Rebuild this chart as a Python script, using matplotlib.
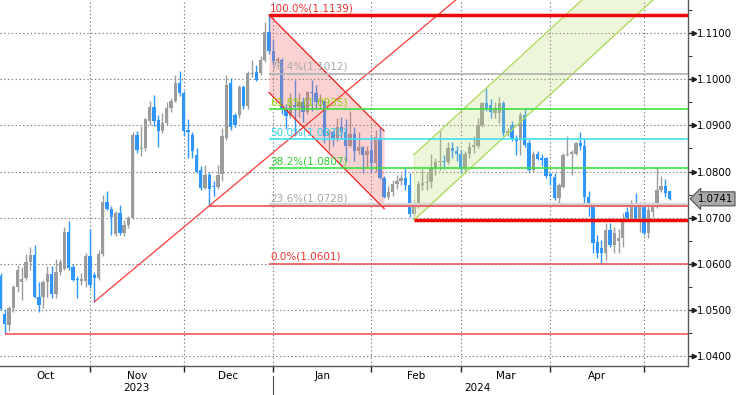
import numpy as np
import matplotlib.pyplot as plt
import matplotlib.transforms as mtransforms
from matplotlib.ticker import FormatStrFormatter

plt.close('all')

# --- 1. Data (daily candles, bar index 0 = first visible bar) ---
opens = [1.0573, 1.0492, 1.0468, 1.0504, 1.0550, 1.0562, 1.0569, 1.0605, 1.0619, 1.0529,
         1.0529, 1.0560, 1.0578, 1.0535, 1.0583, 1.0589, 1.0670, 1.0593, 1.0567, 1.0564,
         1.0564, 1.0617, 1.0576, 1.0569, 1.0622, 1.0734, 1.0720, 1.0665, 1.0710, 1.0667,
         1.0684, 1.0700, 1.0879, 1.0848, 1.0850, 1.0910, 1.0940, 1.0912, 1.0887, 1.0905,
         1.0937, 1.0953, 1.0991, 1.0970, 1.0890, 1.0879, 1.0836, 1.0803, 1.0764, 1.0793,
         1.0768, 1.0767, 1.0795, 1.0872, 1.0992, 1.0922, 1.0922, 1.0984, 1.0941, 1.1011,
         1.1016, 1.1013, 1.1042, 1.1103, 1.1061, 1.1039, 1.1042, 1.0935, 1.0920, 1.0945,
         1.0940, 1.0950, 1.0930, 1.0973, 1.0970, 1.0950, 1.0953, 1.0877, 1.0886, 1.0873,
         1.0897, 1.0885, 1.0855, 1.0882, 1.0844, 1.0854, 1.0835, 1.0847, 1.0818, 1.0872,
         1.0786, 1.0744, 1.0755, 1.0773, 1.0780, 1.0786, 1.0772, 1.0708, 1.0728, 1.0772,
         1.0776, 1.0778, 1.0808, 1.0820, 1.0823, 1.0821, 1.0851, 1.0844, 1.0838, 1.0805,
         1.0838, 1.0854, 1.0856, 1.0900, 1.0948, 1.0944, 1.0926, 1.0927, 1.0948, 1.0883,
         1.0900, 1.0872, 1.0869, 1.0922, 1.0861, 1.0803, 1.0838, 1.0830, 1.0829, 1.0794,
         1.0789, 1.0742, 1.0767, 1.0836, 1.0839, 1.0838, 1.0862, 1.0856, 1.0746, 1.0724,
         1.0648, 1.0634, 1.0623, 1.0674, 1.0641, 1.0650, 1.0656, 1.0713, 1.0695, 1.0730,
         1.0700, 1.0733, 1.0667, 1.0712, 1.0724, 1.0761, 1.0769, 1.0757]
highs = [1.0580, 1.0502, 1.0508, 1.0555, 1.0598, 1.0593, 1.0622, 1.0637, 1.0641, 1.0562,
         1.0565, 1.0596, 1.0596, 1.0610, 1.0610, 1.0679, 1.0694, 1.0601, 1.0574, 1.0580,
         1.0624, 1.0676, 1.0583, 1.0630, 1.0749, 1.0758, 1.0725, 1.0715, 1.0727, 1.0695,
         1.0703, 1.0885, 1.0888, 1.0898, 1.0915, 1.0953, 1.0966, 1.0922, 1.0927, 1.0950,
         1.0960, 1.1009, 1.1018, 1.0975, 1.0914, 1.0885, 1.0850, 1.0813, 1.0815, 1.0800,
         1.0780, 1.0815, 1.0894, 1.1010, 1.1002, 1.0926, 1.0988, 1.0988, 1.1017, 1.1041,
         1.1030, 1.1050, 1.1124, 1.1139, 1.1088, 1.1048, 1.1046, 1.0946, 1.0970, 1.0998,
         1.0970, 1.0961, 1.0975, 1.0999, 1.0987, 1.0969, 1.0955, 1.0890, 1.0890, 1.0916,
         1.0918, 1.0914, 1.0932, 1.0896, 1.0886, 1.0856, 1.0855, 1.0876, 1.0889, 1.0897,
         1.0790, 1.0768, 1.0781, 1.0792, 1.0795, 1.0807, 1.0797, 1.0740, 1.0780, 1.0806,
         1.0797, 1.0838, 1.0829, 1.0888, 1.0836, 1.0865, 1.0864, 1.0855, 1.0847, 1.0845,
         1.0865, 1.0876, 1.0917, 1.0951, 1.0981, 1.0958, 1.0950, 1.0962, 1.0952, 1.0895,
         1.0910, 1.0879, 1.0930, 1.0937, 1.0868, 1.0845, 1.0845, 1.0838, 1.0831, 1.0800,
         1.0796, 1.0775, 1.0840, 1.0877, 1.0847, 1.0863, 1.0886, 1.0870, 1.0757, 1.0727,
         1.0662, 1.0652, 1.0688, 1.0688, 1.0680, 1.0675, 1.0710, 1.0724, 1.0739, 1.0753,
         1.0734, 1.0735, 1.0731, 1.0735, 1.0811, 1.0790, 1.0783, 1.0758]
lows = [1.0500, 1.0448, 1.0455, 1.0495, 1.0540, 1.0522, 1.0565, 1.0587, 1.0526, 1.0497,
        1.0504, 1.0529, 1.0526, 1.0526, 1.0576, 1.0587, 1.0587, 1.0563, 1.0526, 1.0555,
        1.0551, 1.0547, 1.0518, 1.0565, 1.0617, 1.0717, 1.0663, 1.0660, 1.0663, 1.0660,
        1.0678, 1.0698, 1.0840, 1.0833, 1.0845, 1.0900, 1.0899, 1.0853, 1.0884, 1.0900,
        1.0930, 1.0950, 1.0963, 1.0877, 1.0829, 1.0830, 1.0798, 1.0760, 1.0762, 1.0726,
        1.0748, 1.0762, 1.0780, 1.0868, 1.0891, 1.0897, 1.0917, 1.0935, 1.0935, 1.1005,
        1.0995, 1.1008, 1.1038, 1.1055, 1.1030, 1.1036, 1.0925, 1.0892, 1.0915, 1.0877,
        1.0918, 1.0908, 1.0925, 1.0932, 1.0937, 1.0937, 1.0862, 1.0844, 1.0855, 1.0866,
        1.0872, 1.0822, 1.0853, 1.0823, 1.0837, 1.0796, 1.0807, 1.0796, 1.0800, 1.0783,
        1.0743, 1.0740, 1.0748, 1.0762, 1.0770, 1.0760, 1.0702, 1.0695, 1.0722, 1.0761,
        1.0760, 1.0764, 1.0792, 1.0804, 1.0805, 1.0816, 1.0830, 1.0823, 1.0796, 1.0797,
        1.0829, 1.0840, 1.0850, 1.0896, 1.0932, 1.0916, 1.0916, 1.0905, 1.0877, 1.0877,
        1.0866, 1.0836, 1.0836, 1.0853, 1.0800, 1.0800, 1.0825, 1.0812, 1.0787, 1.0770,
        1.0738, 1.0728, 1.0765, 1.0833, 1.0793, 1.0835, 1.0847, 1.0731, 1.0703, 1.0624,
        1.0612, 1.0601, 1.0609, 1.0637, 1.0624, 1.0624, 1.0637, 1.0692, 1.0692, 1.0692,
        1.0670, 1.0663, 1.0656, 1.0702, 1.0721, 1.0756, 1.0745, 1.0739]
closes = [1.0502, 1.0470, 1.0504, 1.0551, 1.0586, 1.0568, 1.0605, 1.0619, 1.0529, 1.0511,
          1.0562, 1.0578, 1.0535, 1.0583, 1.0605, 1.0670, 1.0591, 1.0565, 1.0565, 1.0567,
          1.0617, 1.0555, 1.0569, 1.0622, 1.0734, 1.0718, 1.0701, 1.0710, 1.0667, 1.0684,
          1.0699, 1.0879, 1.0847, 1.0852, 1.0914, 1.0940, 1.0910, 1.0887, 1.0905, 1.0937,
          1.0953, 1.0991, 1.0970, 1.0887, 1.0885, 1.0844, 1.0800, 1.0764, 1.0793, 1.0762,
          1.0766, 1.0793, 1.0876, 1.0988, 1.0896, 1.0901, 1.0984, 1.0941, 1.1013, 1.1014,
          1.0998, 1.1042, 1.1103, 1.1061, 1.1039, 1.1043, 1.0935, 1.0920, 1.0945, 1.0940,
          1.0950, 1.0930, 1.0973, 1.0970, 1.0950, 1.0953, 1.0877, 1.0886, 1.0873, 1.0897,
          1.0885, 1.0855, 1.0882, 1.0844, 1.0854, 1.0835, 1.0845, 1.0818, 1.0874, 1.0786,
          1.0744, 1.0755, 1.0773, 1.0780, 1.0786, 1.0772, 1.0708, 1.0728, 1.0773, 1.0776,
          1.0778, 1.0808, 1.0820, 1.0823, 1.0821, 1.0851, 1.0844, 1.0838, 1.0805, 1.0838,
          1.0854, 1.0856, 1.0900, 1.0948, 1.0938, 1.0928, 1.0937, 1.0948, 1.0883, 1.0888,
          1.0872, 1.0867, 1.0922, 1.0857, 1.0803, 1.0838, 1.0827, 1.0826, 1.0790, 1.0790,
          1.0742, 1.0771, 1.0836, 1.0839, 1.0840, 1.0861, 1.0855, 1.0746, 1.0724, 1.0645,
          1.0624, 1.0623, 1.0674, 1.0641, 1.0668, 1.0656, 1.0692, 1.0699, 1.0730, 1.0695,
          1.0727, 1.0667, 1.0717, 1.0728, 1.0760, 1.0769, 1.0753, 1.0741]

month_names = ['Oct', 'Nov', 'Dec', 'Jan', 'Feb', 'Mar', 'Apr']
month_breaks = [0, 21, 43, 64, 87, 108, 129, 151]   # bar index of each month separator
year_names = ['2023', '2024']
year_pos = [32, 112]
year_break = 64

fib_pcts = ['0.0', '23.6', '38.2', '50.0', '61.8', '76.4', '100.0']
fib_prices = [1.0601, 1.0728, 1.0807, 1.0870, 1.0935, 1.1012, 1.1139]
fib_start = 63

# --- 2. Figure ---
BLUE = '#2f95ff'
GREY = '#9c9c9c'
RED = '#f01c1c'
fig = plt.figure(figsize=(7.36, 3.95), dpi=100)
ax = fig.add_axes([0, 29/395, 688/736, 366/395])
ax.set_xlim(-0.12, 161.3)
ax.set_ylim(1.03792, 1.11714)

grid_kw = dict(color='#7a7a7a', lw=0.8, ls=(0, (1.2, 2.2)), zorder=0)
for yv in np.arange(1.04, 1.111, 0.01):
    ax.axhline(yv, **grid_kw)
for xv in month_breaks[1:]:
    ax.axvline(xv, **grid_kw)

# candles
x = np.arange(len(opens))
o, h, l, c = map(np.array, (opens, highs, lows, closes))
col = np.where(c >= o, GREY, BLUE)
ax.vlines(x, l, h, colors=col, lw=1.0, zorder=2)
ax.bar(x, np.maximum(np.abs(c - o), 0.00025), bottom=np.minimum(o, c), width=0.78,
       color=col, lw=0, zorder=2)

# descending (red) channel from the December top
a0, a1 = 63, 89
s = (h[a1] - h[a0]) / (a1 - a0)
xs = np.array([a0, 90])
upper = h[a0] + s * (xs - a0)
lower = upper - 0.0168
ax.fill_between(xs, lower, upper, color='#f26a6a', alpha=0.3, lw=0, zorder=2.5)
ax.plot(xs, upper, color=RED, lw=0.9, zorder=3)
ax.plot(xs, lower, color=RED, lw=0.9, zorder=3)

# ascending (green) channel from the February low
g0, g1 = 97, 109
gs = (l[g1] - l[g0]) / (g1 - g0)
goff = h[114] - (l[g0] + gs * (114 - g0))
xs = np.array([g0, 175])
glow = l[g0] + gs * (xs - g0)
ax.fill_between(xs, glow, glow + goff, color='#b8dc70', alpha=0.25, lw=0, zorder=2.5)
ax.plot(xs, glow, color='#aedb62', lw=1.0, zorder=3)
ax.plot(xs, glow + goff, color='#aedb62', lw=1.0, zorder=3)
ax.plot([g0, g0], [glow[0], glow[0] + goff], color='#d8ecb0', lw=0.6, zorder=2.6)

# rising trend line from the November low
t0, t1 = 22, 49
ts = (l[t1] - l[t0]) / (t1 - t0)
xs = np.array([t0, 130])
ax.plot(xs, l[t0] + ts * (xs - t0), color='#ff3a3a', lw=0.9, zorder=3)

# horizontal support lines
ax.hlines(l[1], 1, 170, color='#f04848', lw=1.1, zorder=3)
ax.hlines(l[49], 49, 170, color='#f04848', lw=1.1, zorder=3.1)
ax.hlines(l[97], 97, 170, color='#ee0a0a', lw=2.5, zorder=3.1)

# fibonacci retracement
fib_line_colors = ['#f04848', '#d4d4d4', '#3ee03e', '#40e0f0', '#3ee03e', '#b0b0b0', '#ee0a0a']
fib_text_colors = ['#f03030', '#a6a6a6', '#2ecc2e', '#30cfe8', '#88d000', '#a6a6a6', '#f03030']
fib_lw = [1.1, 3.0, 1.2, 1.2, 1.2, 1.2, 2.5]
for pct, pr, lc, tc, lw in zip(fib_pcts, fib_prices, fib_line_colors, fib_text_colors, fib_lw):
    ax.hlines(pr, fib_start, 170, color=lc, lw=lw, zorder=3 if lw < 2.9 else 2.9)
    ax.text(fib_start + 0.3, pr + 0.0004, f'{pct}%({pr:.4f})', color=tc, fontsize=7.5,
            ha='left', va='bottom', zorder=4)

# --- 3. Axes styling ---
for side in ('top', 'left'):
    ax.spines[side].set_visible(False)
for side in ('right', 'bottom'):
    ax.spines[side].set_color('#5a5a5a')
    ax.spines[side].set_linewidth(1.0)

yt = np.arange(1.04, 1.111, 0.01)
ax.yaxis.tick_right()
ax.set_yticks(yt)
ax.set_yticks(np.arange(1.045, 1.116, 0.01), minor=True)
ax.yaxis.set_major_formatter(FormatStrFormatter('%.4f'))
ax.tick_params(axis='y', which='major', length=4, width=1, color='#202020', pad=2.5, labelsize=7.3)
ax.tick_params(axis='y', which='minor', length=3, width=0.8, color='#404040')
ytrans = mtransforms.blended_transform_factory(ax.transAxes, ax.transData)
tri = ytrans + mtransforms.ScaledTranslation(4.0/72, 0, fig.dpi_scale_trans)
ax.plot(np.ones(len(yt)), yt, ls='none', marker='>', ms=3.2, color='#202020',
        transform=tri, clip_on=False)

ax.set_xticks(month_breaks[1:])
ax.set_xticklabels([])
ax.tick_params(axis='x', which='major', length=4, width=1, color='#202020')
xtrans = mtransforms.blended_transform_factory(ax.transData, ax.transAxes)
for name, a, b in zip(month_names, month_breaks[:-1], month_breaks[1:]):
    ax.text((a + b) / 2, -10/366, name, transform=xtrans, ha='center', va='center', fontsize=7.5)
for name, xp in zip(year_names, year_pos):
    ax.text(xp, -22/366, name, transform=xtrans, ha='center', va='center', fontsize=7.5)
ax.plot([year_break, year_break], [-10/366, -29/366], color='#505050', lw=0.8,
        transform=xtrans, clip_on=False)

# last price tag
tag = ytrans + mtransforms.ScaledTranslation(7.0/72, 0, fig.dpi_scale_trans)
ax.text(1.0, closes[-1], f'{closes[-1]:.4f}', transform=tag, ha='left', va='center',
        fontsize=7.3, bbox=dict(boxstyle='larrow,pad=0.2', fc='#a9a9a9', ec='#505050', lw=0.8))

fig.savefig('out.png', dpi=100)
